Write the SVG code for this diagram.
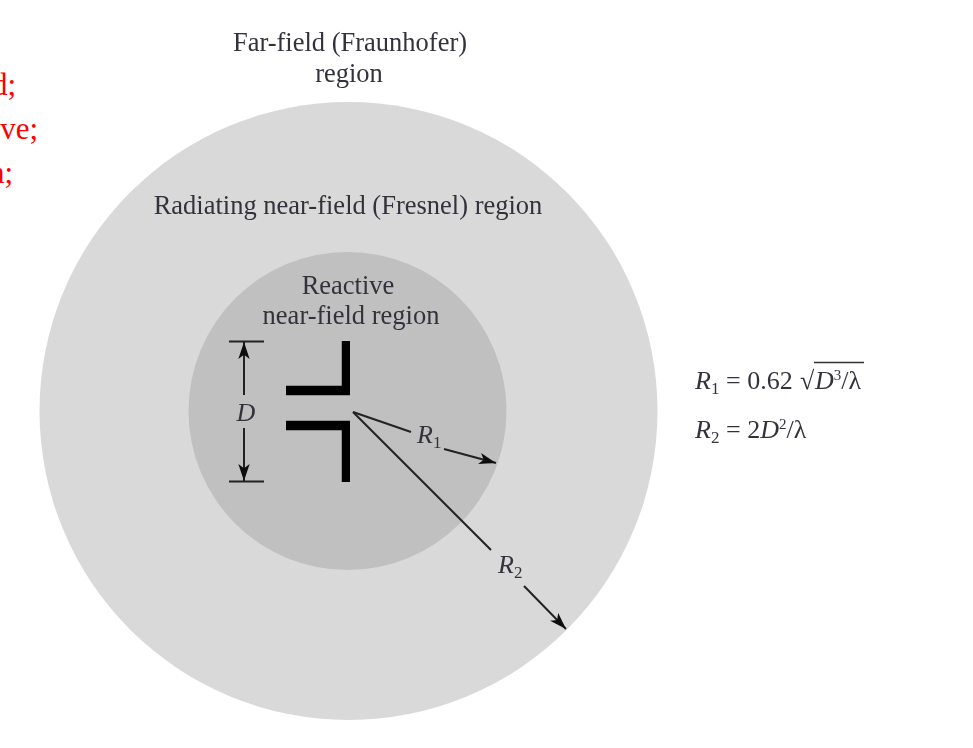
<svg xmlns="http://www.w3.org/2000/svg" width="973" height="748" viewBox="0 0 973 748">
<defs>
<filter id="soft" x="-5%" y="-5%" width="110%" height="110%"><feGaussianBlur stdDeviation="0.6"/></filter>
<marker id="arrow" viewBox="0 0 12 8" refX="12" refY="4" markerWidth="17" markerHeight="12" markerUnits="userSpaceOnUse" orient="auto"><path d="M0 0L12 4L0 8L3 4Z" fill="#111"/></marker>
</defs>
<style>
text{font-family:"Liberation Serif","Times New Roman",serif;fill:#33333c}
.lab{font-size:26.500px;text-anchor:middle}
.eq{font-size:26px}
.it{font-style:italic}
.red{font-size:31px;fill:#f00;text-anchor:end}
.ln{stroke:#222;stroke-width:2;fill:none}
.thick{stroke:#050505;stroke-width:9.500;fill:none}
</style>
<rect width="973" height="748" fill="#fff"/>
<g id="notes">
<text class="red" x="16" y="95">d;</text>
<text class="red" x="38" y="139">ve;</text>
<text class="red" x="13" y="183">n;</text>
</g>
<g id="far-field">
<circle cx="348.500" cy="411" r="309" fill="#d9d9d9"/>
<text class="lab" x="350" y="51" filter="url(#soft)">Far-field (Fraunhofer)</text>
<text class="lab" x="349" y="82" filter="url(#soft)">region</text>
</g>
<g id="radiating-near-field">
<text class="lab" x="348" y="214" filter="url(#soft)">Radiating near-field (Fresnel) region</text>
</g>
<g id="reactive-near-field">
<circle cx="347.500" cy="411" r="159" fill="#c0c0c0"/>
<text class="lab" x="348" y="294" filter="url(#soft)">Reactive</text>
<text class="lab" x="351" y="324" filter="url(#soft)">near-field region</text>
</g>
<g id="antenna" filter="url(#soft)">
<path class="thick" d="M286 390.500H346.500V341"/>
<path class="thick" d="M286 425.500H346.500V482"/>
</g>
<g id="connectors" filter="url(#soft)">
<path class="ln" d="M229 341.500H264M229 481.500H264"/>
<path class="ln" d="M244 395V342" marker-end="url(#arrow)"/>
<path class="ln" d="M244 428V481" marker-end="url(#arrow)"/>
<path class="ln" d="M353 412L411 432"/>
<path class="ln" d="M444 449L496 463" marker-end="url(#arrow)"/>
<path class="ln" d="M353 412L491 550"/>
<path class="ln" d="M524 586L566 629" marker-end="url(#arrow)"/>
</g>
<g id="dimension-labels" filter="url(#soft)">
<text class="it" x="246" y="421" font-size="26" text-anchor="middle">D</text>
<text class="it" x="417" y="443" font-size="26">R<tspan font-size="17" dy="5" font-style="normal">1</tspan></text>
<text class="it" x="498" y="573" font-size="26">R<tspan font-size="17" dy="5" font-style="normal">2</tspan></text>
</g>
<g id="equations" filter="url(#soft)">
<text class="eq" x="695" y="389"><tspan class="it">R</tspan><tspan font-size="17" dy="5">1</tspan><tspan x="726" dy="-5">= 0.62</tspan><tspan x="800">√</tspan><tspan class="it" x="815">D</tspan><tspan font-size="15" dy="-9">3</tspan><tspan dy="9">/λ</tspan></text>
<path d="M814 362.500H864" stroke="#333" stroke-width="1.500" fill="none"/>
<text class="eq" x="695" y="438"><tspan class="it">R</tspan><tspan font-size="17" dy="5">2</tspan><tspan x="726" dy="-5">= 2</tspan><tspan class="it">D</tspan><tspan font-size="15" dy="-9">2</tspan><tspan dy="9">/λ</tspan></text>
</g>
</svg>
